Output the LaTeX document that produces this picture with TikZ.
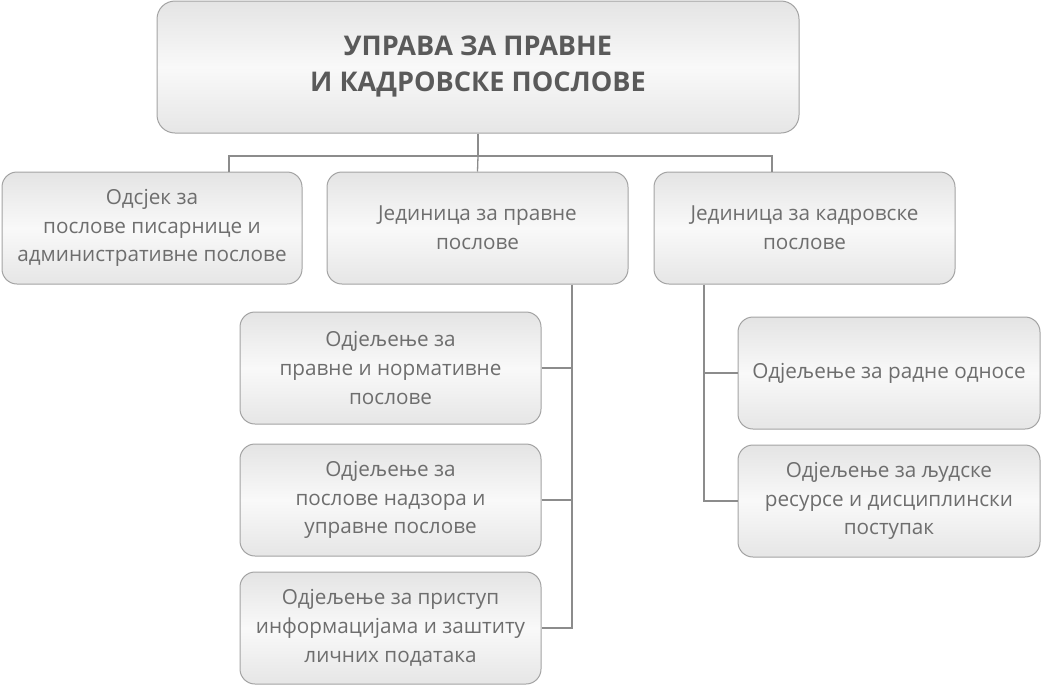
\documentclass[tikz,border=0pt]{standalone}
\usepackage{fontspec}
\setmainfont{Open Sans}
\definecolor{boxline}{HTML}{A3A3A3}
\definecolor{conn}{HTML}{8C8C8C}
\definecolor{txt}{HTML}{6E6E6E}
\definecolor{ttl}{HTML}{5A5A5A}
\definecolor{shtop}{HTML}{E4E4E4}
\definecolor{shmid}{HTML}{F9F9F9}
\definecolor{shbot}{HTML}{E6E6E6}
\begin{document}
\begin{tikzpicture}[x=1pt,y=-1pt,
  orgbox/.style={draw=boxline, line width=1pt, rounded corners=15pt,
    top color=shtop, bottom color=shbot, middle color=shmid,
    inner sep=0pt, align=center, text=txt,
    font=\fontsize{20.7}{28.7}\selectfont},
  topbox/.style={orgbox, rounded corners=18pt, text=ttl,
    font=\bfseries\fontsize{27.1}{36}\selectfont},
  wire/.style={draw=conn, line width=1.3pt}]
\useasboundingbox (0,0) rectangle (1041,686);
\node[topbox, minimum width=642pt, minimum height=132pt] (top) at (478,67)
  {УПРАВА ЗА ПРАВНЕ\\И КАДРОВСКЕ ПОСЛОВЕ};
\node[orgbox, minimum width=300pt, minimum height=112pt] (a) at (152,228)
  {Одсјек за\\послове писарнице и\\административне послове};
\node[orgbox, minimum width=301pt, minimum height=112pt] (b) at (477.5,228)
  {Јединица за правне\\послове};
\node[orgbox, minimum width=301pt, minimum height=112pt] (c) at (804.5,228)
  {Јединица за кадровске\\послове};
\node[orgbox, minimum width=301pt, minimum height=112pt] (l1) at (390.5,368)
  {Одјељење за\\правне и нормативне\\послове};
\node[orgbox, minimum width=301pt, minimum height=112pt] (l2) at (390.5,500)
  {Одјељење за\\послове надзора и\\управне послове};
\node[orgbox, minimum width=301pt, minimum height=112pt] (l3) at (390.5,628)
  {Одјељење за приступ\\информацијама и заштиту\\личних података};
\node[orgbox, minimum width=302pt, minimum height=112pt] (r1) at (889,373)
  {Одјељење за радне односе};
\node[orgbox, minimum width=302pt, minimum height=112pt] (r2) at (889,501)
  {Одјељење за људске\\ресурсе и дисциплински\\поступак};
% junction coordinates
\coordinate (busL) at (229,156);
\coordinate (busR) at (772,156);
\coordinate (busM) at (478,156);
\coordinate (lb) at (572,0);
\coordinate (rb) at (704,0);
\draw[wire] (top.south) -- (busM);
\draw[wire] (busL |- a.north) -- (busL) -- (busR) -- (busR |- c.north);
\draw[wire] (busM) -- (b.north);
\draw[wire] (lb |- b.south) -- (lb |- l3.east) -- (l3.east);
\draw[wire] (l1.east) -- (lb |- l1.east);
\draw[wire] (l2.east) -- (lb |- l2.east);
\draw[wire] (rb |- c.south) -- (rb |- r2.west) -- (r2.west);
\draw[wire] (rb |- r1.west) -- (r1.west);
\end{tikzpicture}
\end{document}
